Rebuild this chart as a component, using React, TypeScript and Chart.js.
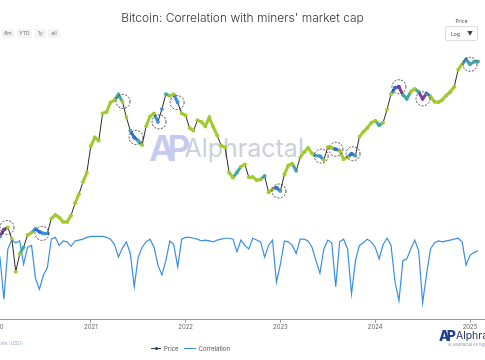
import React, { useEffect, useRef } from 'react';
import { Chart, registerables } from 'chart.js';

Chart.register(...registerables);

// Half-monthly observations starting Jan 2020
const START_YEAR = 2020;
const POINTS_PER_YEAR = 24;
const yearTicks = [2020, 2021, 2022, 2023, 2024, 2025];

const price = [
  7200, 8800, 9700, 10000, 8550, 5400, 6900, 7600, 9000, 9300,
  9800, 9400, 9200, 9200, 11300, 11900, 11500, 10800, 10800, 11800,
  14000, 15900, 18800, 21500, 31000, 35000, 33500, 49000, 50000, 57000,
  59000, 63500, 57800, 46500, 38500, 35000, 33500, 31500, 41000, 47000,
  49000, 43500, 52000, 64000, 62500, 64000, 57000, 49000, 47700, 40000,
  38500, 44500, 43500, 41000, 46300, 40500, 36000, 31300, 30500, 21500,
  20000, 21500, 23300, 24100, 20100, 20200, 19300, 19500, 20500, 16300,
  17100, 17400, 16600, 20900, 23700, 24300, 22000, 26500, 28500, 30300,
  28000, 27200, 27000, 25600, 30600, 30300, 29700, 29200, 25900, 26600,
  27900, 27100, 35400, 37900, 40000, 43000, 44200, 41500, 43100, 51800,
  64000, 70000, 71000, 63400, 60000, 66200, 69000, 66000, 60000, 64800,
  62000, 57600, 57300, 59200, 63000, 66000, 71000, 90000, 97200, 104000,
  97000, 100500, 101000,
];

const correlation = [
  0.79, 0.70, 0.23, 0.79, 0.89, 0.86, 0.88, 0.62, 0.81, 0.83,
  0.46, 0.34, 0.50, 0.58, 0.90, 0.92, 0.83, 0.88, 0.87, 0.82,
  0.88, 0.89, 0.90, 0.92, 0.93, 0.93, 0.93, 0.93, 0.92, 0.90,
  0.84, 0.70, 0.80, 0.87, 0.74, 0.37, 0.70, 0.81, 0.87, 0.90,
  0.81, 0.61, 0.50, 0.66, 0.88, 0.84, 0.59, 0.90, 0.92, 0.92,
  0.91, 0.90, 0.88, 0.89, 0.88, 0.87, 0.89, 0.90, 0.91, 0.91,
  0.90, 0.76, 0.89, 0.83, 0.79, 0.91, 0.89, 0.87, 0.70, 0.83,
  0.89, 0.42, 0.62, 0.88, 0.87, 0.83, 0.74, 0.90, 0.90, 0.88,
  0.81, 0.66, 0.52, 0.79, 0.89, 0.86, 0.37, 0.87, 0.90, 0.79,
  0.29, 0.66, 0.83, 0.86, 0.90, 0.87, 0.81, 0.68, 0.84, 0.91,
  0.83, 0.43, 0.21, 0.66, 0.68, 0.79, 0.89, 0.77, 0.19, 0.51,
  0.79, 0.86, 0.88, 0.87, 0.88, 0.89, 0.90, 0.91, 0.87, 0.61,
  0.72, 0.75, 0.77,
];

// Dates (decimal years) of highlighted low-correlation episodes
const highlightDates = [
  2020.116, 2020.485, 2021.34, 2021.477, 2021.72, 2021.91, 2022.985,
  2023.43, 2023.586, 2023.766, 2024.25, 2024.504, 2025.0,
];

function corrColor(c: number): string {
  if (c >= 0.78) return '#a2c92e';
  if (c >= 0.62) return '#45a89c';
  if (c >= 0.45) return '#3a93d2';
  if (c >= 0.28) return '#2f6fd6';
  return '#7b3e96';
}

export default function App() {
  const ref = useRef<HTMLCanvasElement | null>(null);

  useEffect(() => {
    const xs = price.map((_, i) => START_YEAR + i / POINTS_PER_YEAR);
    const priceData = price.map((p, i) => ({ x: xs[i], y: p }));
    const corrData = correlation.map((c, i) => ({ x: xs[i], y: c }));

    const steep = (ctx: any) => Math.abs(ctx.p1.y - ctx.p0.y) > 10;

    const circlePlugin = {
      id: 'circles',
      afterDatasetsDraw(chart: any) {
        const { ctx } = chart;
        const xScale = chart.scales.x;
        const yScale = chart.scales.y;
        ctx.save();
        ctx.setLineDash([2, 1.5]);
        ctx.strokeStyle = '#222';
        ctx.lineWidth = 0.8;
        highlightDates.forEach((d) => {
          let best = 0;
          let bd = Infinity;
          xs.forEach((xv, i) => {
            const dd = Math.abs(xv - d);
            if (dd < bd) {
              bd = dd;
              best = i;
            }
          });
          const px = xScale.getPixelForValue(d);
          const py = yScale.getPixelForValue(price[best]);
          ctx.beginPath();
          ctx.arc(px, py, 7, 0, Math.PI * 2);
          ctx.stroke();
        });
        ctx.restore();
      },
    };

    const chart = new Chart(ref.current as HTMLCanvasElement, {
      type: 'line',
      data: {
        datasets: [
          {
            label: 'Price',
            data: priceData,
            yAxisID: 'y',
            borderColor: '#2a2a2a',
            borderWidth: 1,
            pointRadius: 1.9,
            pointBorderWidth: 0,
            pointBackgroundColor: (ctx: any) => corrColor(correlation[ctx.dataIndex] ?? 1),
            segment: {
              borderColor: (ctx: any) =>
                steep(ctx)
                  ? '#2a2a2a'
                  : corrColor(Math.min(correlation[ctx.p0DataIndex], correlation[ctx.p1DataIndex])),
              borderWidth: (ctx: any) => (steep(ctx) ? 1 : 3),
            },
            tension: 0,
            order: 1,
          },
          {
            label: 'Correlation',
            data: corrData,
            yAxisID: 'y2',
            borderColor: '#3a8ee0',
            borderWidth: 1.2,
            pointRadius: 0,
            tension: 0,
            order: 2,
          },
        ],
      },
      options: {
        responsive: false,
        animation: false,
        layout: { padding: { left: 20, right: 14, top: 45, bottom: 28 } },
        plugins: {
          legend: { display: false },
          tooltip: { enabled: false },
          title: { display: false },
        },
        scales: {
          x: {
            type: 'linear',
            min: START_YEAR,
            max: 2025.179,
            afterBuildTicks: (s: any) => {
              s.ticks = yearTicks.map((v) => ({ value: v }));
            },
            ticks: {
              autoSkip: false,
              maxRotation: 0,
              padding: 1,
              color: '#666',
              font: { size: 6, family: 'Inter, sans-serif' },
              callback: (v: any) => String(v),
            },
            grid: {
              display: true,
              drawOnChartArea: false,
              drawTicks: true,
              tickLength: 3,
              color: '#999',
            },
            border: { display: true, color: '#999', width: 1 },
          },
          y: {
            type: 'logarithmic',
            display: false,
            min: 2760,
            max: 127000,
          },
          y2: {
            type: 'linear',
            display: false,
            min: 0,
            max: 3.0667,
          },
        },
      },
      plugins: [circlePlugin],
    } as any);

    return () => {
      chart.destroy();
    };
  }, []);

  const btn = (label: string, left: number, width: number) => (
    <div
      key={label}
      style={{
        position: 'absolute',
        left,
        top: 29,
        width,
        height: 9,
        background: '#f3f3f3',
        borderRadius: 2,
        fontSize: 5,
        color: '#777',
        lineHeight: '9px',
        textAlign: 'center',
      }}
    >
      {label}
    </div>
  );

  return (
    <div
      style={{
        position: 'fixed',
        left: 0,
        top: 0,
        width: 485,
        height: 360,
        overflow: 'hidden',
        background: '#fff',
        fontFamily: 'Inter, "Noto Sans", sans-serif',
      }}
    >
      {/* watermark */}
      <div style={{ position: 'absolute', left: 149, top: 126, display: 'flex', alignItems: 'center' }}>
        <span style={{ fontSize: 36, fontWeight: 600, color: '#c7caee', letterSpacing: -8 }}>AP</span>
        <span style={{ fontSize: 25, fontWeight: 400, color: '#cdd0d8', marginLeft: 2 }}>Alphractal</span>
      </div>

      <canvas
        ref={ref}
        width={525}
        height={360}
        style={{ position: 'absolute', left: -24, top: 0, width: 525, height: 360 }}
      />

      {/* title */}
      <div
        style={{
          position: 'absolute',
          left: 0,
          width: 485,
          top: 10,
          textAlign: 'center',
          fontSize: 12,
          fontWeight: 300,
          color: '#333',
        }}
      >
        Bitcoin: Correlation with miners' market cap
      </div>

      {btn('6m', 2, 12)}
      {btn('YTD', 17, 15)}
      {btn('1y', 35, 11)}
      {btn('all', 48, 12)}

      {/* dropdown */}
      <div style={{ position: 'absolute', left: 445, top: 18, width: 33, textAlign: 'center', fontSize: 5, color: '#555' }}>
        Price
      </div>
      <div
        style={{
          position: 'absolute',
          left: 445,
          top: 26,
          width: 31,
          height: 13,
          border: '1px solid #ddd',
          borderRadius: 2,
          fontSize: 5,
          color: '#444',
        }}
      >
        <span style={{ position: 'absolute', left: 5, top: 4 }}>Log</span>
        <span style={{ position: 'absolute', right: 4, top: 3, fontSize: 6 }}>▼</span>
      </div>

      {/* legend */}
      <div style={{ position: 'absolute', left: 151, top: 345, display: 'flex', alignItems: 'center', fontSize: 6, color: '#555' }}>
        <span style={{ position: 'relative', width: 10, height: 7, display: 'inline-block' }}>
          <span style={{ position: 'absolute', left: 0, top: 3, width: 10, height: 1.2, background: '#2a3a55' }} />
          <span style={{ position: 'absolute', left: 4, top: 2, width: 3, height: 3, borderRadius: 2, background: '#2a3a55' }} />
        </span>
        <span style={{ marginLeft: 3 }}>Price</span>
        <span style={{ marginLeft: 5, width: 12, height: 1.2, background: '#3a8ee0', display: 'inline-block' }} />
        <span style={{ marginLeft: 3 }}>Correlation</span>
      </div>

      {/* source text */}
      <div
        style={{
          position: 'absolute',
          right: 462,
          top: 340,
          whiteSpace: 'nowrap',
          fontSize: 5,
          color: '#9fb2cf',
        }}
      >
        Source: Bitcoin price data (USD)
      </div>

      {/* bottom-right logo */}
      <div style={{ position: 'absolute', left: 439, top: 327, display: 'flex', alignItems: 'center', whiteSpace: 'nowrap' }}>
        <span style={{ fontSize: 14, fontWeight: 800, color: '#1f3f95', letterSpacing: -3 }}>AP</span>
        <span style={{ fontSize: 10.5, color: '#1c2b55', marginLeft: 3 }}>Alphractal</span>
      </div>
      <div style={{ position: 'absolute', left: 448, top: 342, whiteSpace: 'nowrap', fontSize: 4, color: '#8a94b0' }}>
        © Alphractal All rights reserved
      </div>
    </div>
  );
}
